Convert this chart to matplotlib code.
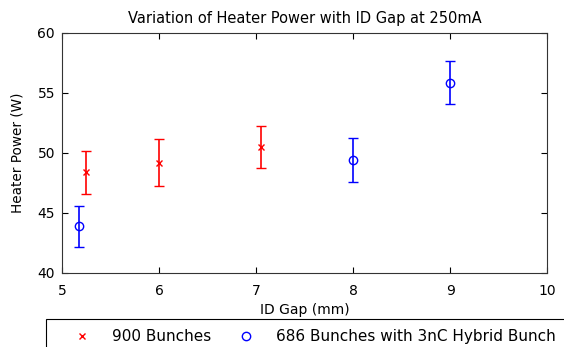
import numpy as np
from matplotlib import pyplot as plt
from matplotlib.patches import Rectangle

# Data
gap_900 = [5.25, 6.0, 7.05]
power_900 = [48.4, 49.2, 50.5]
err_900 = [1.8, 1.95, 1.75]

gap_686 = [5.17, 8.0, 9.0]
power_686 = [43.9, 49.4, 55.85]
err_686 = [1.7, 1.85, 1.8]

xticks = [5, 6, 7, 8, 9, 10]
yticks = [40, 45, 50, 55, 60]

fig = plt.figure(figsize=(5.64, 3.47), dpi=100)
ax = fig.add_axes([0.11, 0.2133, 0.86, 0.6916])

ax.errorbar(gap_900, power_900, yerr=err_900, fmt='x', color='red',
            ms=5, mew=1, elinewidth=1.2, capsize=3.5, capthick=1.2,
            label='900 Bunches')
ax.errorbar(gap_686, power_686, yerr=err_686, fmt='o', color='blue',
            mfc='none', ms=6, mew=1, elinewidth=1.2, capsize=3.5, capthick=1.2,
            label='686 Bunches with 3nC Hybrid Bunch')

ax.set_xlim(5, 10)
ax.set_ylim(40, 60)
ax.set_xticks(xticks)
ax.set_yticks(yticks)
ax.tick_params(direction='in', top=True, right=True, labelsize=10, length=4, pad=5)
ax.tick_params(axis='x', pad=8)
for s in ax.spines.values():
    s.set_color('#333333')
ax.set_xlabel('ID Gap (mm)', fontsize=10, labelpad=3.5)
ax.set_ylabel('Heater Power (W)', fontsize=9.8, labelpad=9)
ax.set_title('Variation of Heater Power with ID Gap at 250mA', fontsize=10.5, pad=7)

handles, labels = ax.get_legend_handles_labels()
handles = [h[0] for h in handles]
leg = fig.legend(handles, labels, loc='upper left', bbox_to_anchor=(0.108, 0.069),
                 ncol=2, fontsize=11, frameon=False, handlelength=2.0,
                 handletextpad=0.94, columnspacing=1.3, borderpad=0.4,
                 borderaxespad=0)

# legend box runs off the bottom/right edge like in the original
fig.patches.append(Rectangle((46 / 564, -0.1), 0.95, 0.1 + (347 - 319) / 347,
                             transform=fig.transFigure, fill=False,
                             edgecolor='black', linewidth=0.8))

fig.savefig('out.png', dpi=100)
